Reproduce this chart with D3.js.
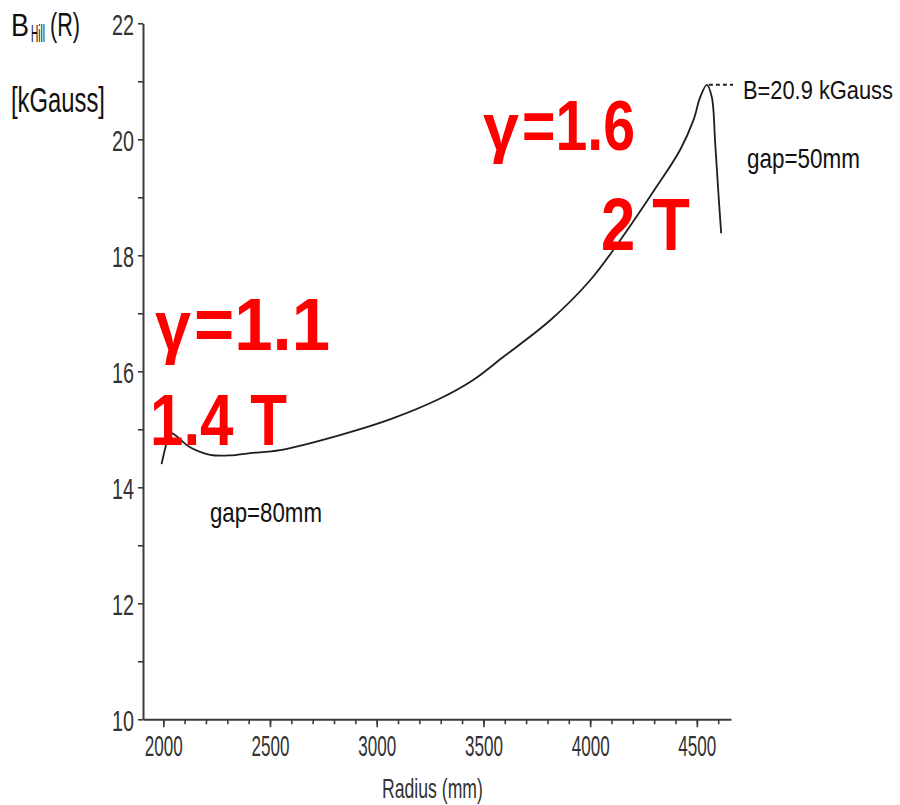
<!DOCTYPE html>
<html>
<head>
<meta charset="utf-8">
<script src="https://cdn.jsdelivr.net/npm/d3@7"></script>
<style>
  html, body { margin: 0; padding: 0; background: #fff; }
  svg { display: block; }
  text { font-family: "Liberation Sans Narrow", "Liberation Sans", Arial, sans-serif; }
</style>
</head>
<body>
<div id="chart"></div>
<script>
'use strict';

// B_Hill(R) curve: radius in mm, field in kGauss
const radius = [1992, 2011, 2031, 2125, 2219, 2313, 2407, 2547, 2828, 3062, 3297, 3452,
  3594, 3813, 4000, 4141, 4300, 4422, 4484, 4516, 4547, 4570, 4586, 4601, 4614];
const field = [14.40, 14.70, 14.94, 14.69, 14.56, 14.55, 14.59, 14.64, 14.90, 15.17, 15.53, 15.85,
  16.25, 16.88, 17.57, 18.26, 19.12, 19.82, 20.33, 20.73, 20.94, 20.73, 19.93, 19.07, 18.38];

const xMajorTicks = [2000, 2500, 3000, 3500, 4000, 4500];
const xMinorTicks = d3.range(2000, 4700, 100);
const yMajorTicks = [10, 12, 14, 16, 18, 20, 22];
const yMinorTicks = [11, 13, 15, 17, 19, 21];

const peakLabel = 'B=20.9 kGauss';
const dashEndRadius = 4670;

const width = 900;
const height = 805;

const svg = d3.select('#chart').append('svg')
  .attr('width', width)
  .attr('height', height);

const x = d3.scaleLinear().domain([1905, 4660]).range([143, 731]);
const y = d3.scaleLinear().domain([10, 22]).range([719.3, 23.3]);

const axisColor = '#3a3a3a';

// squeeze a text element horizontally to a given width
// (the original uses a tall, narrow plotter font)
function fit(sel, w) {
  const node = sel.node();
  const natural = node.getComputedTextLength();
  const sx = w / natural;
  const x0 = +sel.attr('x') || 0;
  return sel.attr('x', x0 / sx).attr('transform', `scale(${sx},1)`);
}

/* x axis: minor ticks every 100 mm, labelled major ticks every 500 mm */
svg.append('g')
  .attr('transform', `translate(0,${y(10)})`)
  .call(d3.axisBottom(x).tickValues(xMinorTicks).tickSize(5).tickSizeOuter(0).tickFormat(''));

const xMajor = svg.append('g')
  .attr('transform', `translate(0,${y(10)})`)
  .call(d3.axisBottom(x).tickValues(xMajorTicks).tickSize(8).tickSizeOuter(0)
    .tickPadding(8).tickFormat(d3.format('d')));
xMajor.select('.domain').remove();

/* y axis */
svg.append('g')
  .attr('transform', `translate(${x.range()[0]},0)`)
  .call(d3.axisLeft(y).tickValues(yMinorTicks).tickSize(5).tickSizeOuter(0).tickFormat(''));

const yMajor = svg.append('g')
  .attr('transform', `translate(${x.range()[0]},0)`)
  .call(d3.axisLeft(y).tickValues(yMajorTicks).tickSize(5).tickSizeOuter(0).tickPadding(4));
yMajor.select('.domain').remove();

svg.selectAll('.domain, .tick line')
  .attr('stroke', axisColor)
  .attr('stroke-width', 1.6);
svg.selectAll('.domain').attr('stroke-width', 2);

xMajor.selectAll('.tick text')
  .attr('fill', '#333')
  .attr('font-size', 29)
  .attr('dy', '0.72em')
  .each(function() { fit(d3.select(this), 38); });

yMajor.selectAll('.tick text')
  .attr('fill', '#333')
  .attr('font-size', 29)
  .attr('dy', '0.4em')
  .each(function() { fit(d3.select(this), 22); });

/* axis titles */
function label(tx, ty, size, str, w) {
  return fit(svg.append('text')
    .attr('x', tx).attr('y', ty)
    .attr('font-size', size)
    .attr('fill', '#111')
    .text(str), w);
}

label(382, 798, 27, 'Radius (mm)', 101).attr('fill', '#333');
label(11, 36, 31, 'B', 18);
label(31, 42, 24, 'Hill', 14);
label(50, 36, 33, '(R)', 30);
label(11, 112, 35, '[kGauss]', 94);

/* the field curve */
const points = radius.map((r, i) => [r, field[i]]);

const line = d3.line()
  .x((d) => x(d[0]))
  .y((d) => y(d[1]))
  .curve(d3.curveCatmullRom.alpha(0.5));

svg.append('path')
  .datum(points)
  .attr('d', line)
  .attr('fill', 'none')
  .attr('stroke', '#1e1e1e')
  .attr('stroke-width', 1.8)
  .attr('stroke-linejoin', 'round');

// dashed leader from the peak to its label
const peakIndex = d3.maxIndex(field);
svg.append('line')
  .attr('x1', x(radius[peakIndex]) + 2)
  .attr('x2', x(dashEndRadius))
  .attr('y1', y(field[peakIndex]))
  .attr('y2', y(field[peakIndex]))
  .attr('stroke', '#222')
  .attr('stroke-width', 2)
  .attr('stroke-dasharray', '4,3');

/* annotations */
label(743, 99, 26, peakLabel, 150);
label(747, 168, 28, 'gap=50mm', 113);
label(210, 522, 28, 'gap=80mm', 112);

// the red labels: gamma is set in a serif face, like the original's symbol font
const redLabels = [
  { gamma: true, text: '=1.6', x: 483, y: 150, size: 71, w: 113 },
  { gamma: false, text: '2 T', x: 601, y: 250, size: 74, w: 89 },
  { gamma: true, text: '=1.1', x: 155, y: 350, size: 74, w: 136 },
  { gamma: false, text: '1.4 T', x: 150, y: 445, size: 73, w: 137 },
];

redLabels.forEach((lab) => {
  let x0 = lab.x;
  if (lab.gamma) {
    fit(svg.append('text')
      .attr('x', x0)
      .attr('y', lab.y)
      .attr('font-family', '"DejaVu Serif", "Liberation Serif", serif')
      .attr('font-size', lab.size * 0.95)
      .attr('font-weight', 'bold')
      .attr('fill', '#ff0000')
      .text('γ'), 36);
    x0 += 39;
  }
  fit(svg.append('text')
    .attr('x', x0)
    .attr('y', lab.y)
    .attr('font-size', lab.size)
    .attr('font-weight', 'bold')
    .attr('fill', '#ff0000')
    .text(lab.text), lab.w);
});
</script>
</body>
</html>
